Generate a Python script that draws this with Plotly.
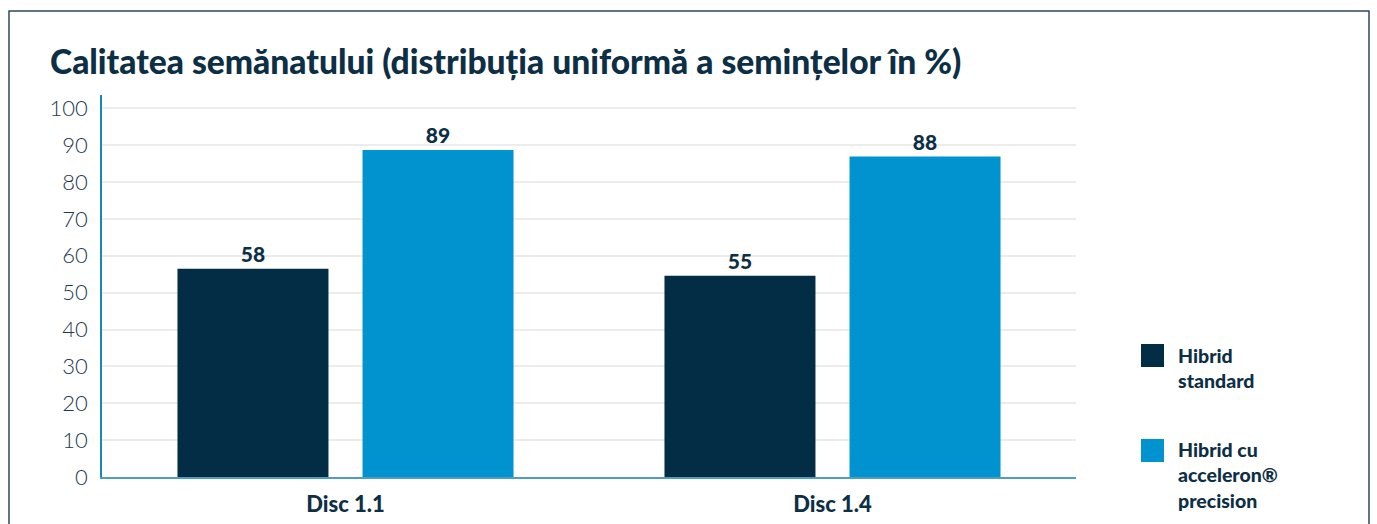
import plotly.graph_objects as go

categories = ["Disc 1.1", "Disc 1.4"]
series_names = ["Hibrid<br>standard", "Hibrid cu<br>acceleron®<br>precision"]
standard_values = [56.5, 54.6]
acceleron_values = [88.7, 86.9]
standard_labels = ["58", "55"]
acceleron_labels = ["89", "88"]
y_ticks = [0, 10, 20, 30, 40, 50, 60, 70, 80, 90, 100]

W, H = 1377, 524
L, R, T, B = 102, 1076, 95, 477
DARK = "#022d45"
BLUE = "#0093d0"
TXT = "#0d2f45"
FONT = "Lato"

fig = go.Figure()
for name, vals, labels, color in [
    (series_names[0], standard_values, standard_labels, DARK),
    (series_names[1], acceleron_values, acceleron_labels, BLUE),
]:
    fig.add_trace(go.Bar(
        x=categories, y=vals, name=name, marker=dict(color=color, line=dict(width=0)),
        text=labels, textposition="outside", cliponaxis=False,
        textfont=dict(family=FONT, size=21, color=TXT, weight=900),
        showlegend=False,
    ))

def px_x(p):
    return (p - L) / (R - L)

def px_y(p):
    return (B - p) / (B - T)

shapes = [
    dict(type="rect", xref="paper", yref="paper", x0=px_x(9), x1=px_x(1369), y0=px_y(540), y1=px_y(11),
         line=dict(color="#2e4a5c", width=1.5), fillcolor="rgba(0,0,0,0)", layer="below"),
]
annotations = []
legend_rows = [(344, 368), (439, 475)]
for (sq_top, txt_mid), name, color in zip(legend_rows, series_names, [DARK, BLUE]):
    shapes.append(dict(type="rect", xref="paper", yref="paper", x0=px_x(1141), x1=px_x(1164),
                       y0=px_y(sq_top + 23), y1=px_y(sq_top), line=dict(width=0), fillcolor=color))
    annotations.append(dict(xref="paper", yref="paper", x=px_x(1176), y=px_y(txt_mid), xanchor="left",
                            yanchor="middle", align="left", showarrow=False, text=name,
                            font=dict(family=FONT, size=19.5, color=TXT, weight=900)))

fig.update_layout(
    width=W, height=H, autosize=False,
    margin=dict(l=L, r=W - R, t=T, b=H - B, pad=0),
    paper_bgcolor="white", plot_bgcolor="white",
    barmode="group", bargap=0.24, bargroupgap=0.184,
    title=dict(text="Calitatea semănatului (distribuția uniformă a semințelor în %)",
               x=50 / W, xanchor="left", xref="container", y=1 - 62 / H, yanchor="middle", yref="container",
               font=dict(family=FONT, size=33.6, color=TXT, weight=900), automargin=False),
    shapes=shapes, annotations=annotations,
    font=dict(family=FONT, color=TXT),
)
fig.update_yaxes(range=[0, 103.6], tickvals=y_ticks, showgrid=True, gridcolor="#ececec", gridwidth=1.5,
                 showline=True, linecolor="#1b87b8", linewidth=1.5, zeroline=False, ticks="", automargin=False,
                 ticklabelstandoff=8, tickfont=dict(family=FONT, size=22, color="#1e3a4f", weight=300))
fig.update_xaxes(showline=True, linecolor="#4f9dc5", linewidth=2, ticks="", ticklabelstandoff=7, automargin=False,
                 tickfont=dict(family=FONT, size=22, color=TXT, weight=900))

fig.write_html("out.html", config={"displayModeBar": False},
               post_script="document.body.style.margin='0';")
